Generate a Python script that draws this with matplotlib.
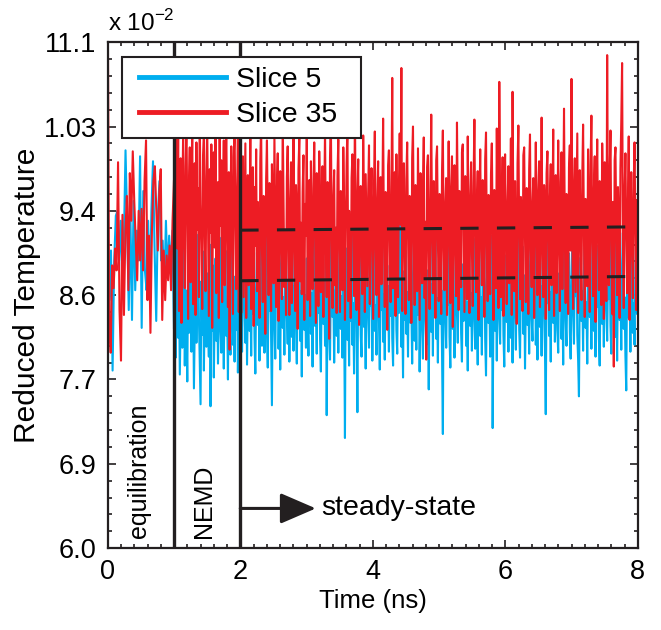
import numpy as np
import matplotlib
matplotlib.use("Agg")
from matplotlib import pyplot as plt
from matplotlib.patches import Rectangle
from matplotlib.ticker import AutoMinorLocator

plt.rcParams['font.family'] = ['Liberation Sans', 'DejaVu Sans']
plt.rcParams['mathtext.fontset'] = 'custom'
plt.rcParams['mathtext.rm'] = 'Liberation Sans'

# reduced temperature (x 10^-2), equilibration part 0-1 ns
red_eq = [11.5, 8.3, 7.97, 8.85, 8.62, 9.02, 8.8, 9.89, 8.4, 7.89, 9.36, 8.35, 9.2, 9.55, 8.6,
          9.78, 9.3, 10.0, 9.5, 9.1, 8.7, 9.4, 8.9, 9.42, 8.8, 9.7, 10.11, 8.5, 9.15, 8.17,
          9.2, 9.7, 9.85, 9.4, 9.0, 9.6, 9.82, 8.3, 9.0, 8.5, 8.95, 8.7, 9.05, 8.6, 9.3]
blue_eq = [8.7, 8.5, 9.0, 7.79, 8.9, 9.35, 9.4, 8.9, 9.3, 8.7, 9.1, 10.01, 9.3, 8.4, 9.4,
           8.3, 9.5, 8.6, 9.2, 8.9, 9.95, 8.22, 9.6, 8.8, 8.6, 9.3, 8.5, 9.4, 9.9, 9.0,
           8.29, 9.35, 9.7, 8.9, 9.1, 8.6, 9.3, 8.75, 9.15, 8.8, 9.2]

# 1-8 ns (NEMD + steady state), 80 samples per ns
red_ss = [
    9.71, 8.54, 10.12, 9.35, 9.02, 10.26, 8.39, 9.58, 9.93, 8.27, 9.44, 10.18, 9.11, 8.62, 9.85, 10.31, 9.27, 8.31, 9.67, 10.04,
    8.68, 9.52, 10.22, 8.46, 9.39, 9.88, 8.35, 10.09, 9.21, 9.63, 8.53, 10.35, 9.47, 9.06, 8.41, 9.96, 10.15, 9.14, 8.59, 9.74,
    10.28, 9.31, 8.34, 9.82, 9.18, 10.07, 8.22, 9.55, 9.99, 9.03, 10.24, 8.57, 9.36, 9.69, 8.32, 10.19, 9.25, 9.91, 8.48, 9.48,
    10.11, 8.65, 9.61, 10.30, 9.08, 8.43, 9.79, 8.00, 9.42, 10.05, 9.17, 8.36, 9.94, 10.21, 9.29, 8.61, 9.57, 10.14, 8.38, 9.34,
    9.12, 8.37, 9.58, 9.95, 8.53, 9.31, 10.08, 8.32, 9.43, 9.76, 8.65, 9.21, 10.19, 8.41, 9.37, 9.84, 8.24, 9.64, 9.05, 10.02,
    8.59, 9.49, 9.17, 8.32, 9.91, 10.28, 9.02, 8.48, 9.55, 9.33, 8.16, 9.72, 10.11, 9.26, 8.55, 9.68, 9.10, 8.39, 9.87, 9.40,
    8.67, 10.16, 9.29, 8.43, 9.61, 9.98, 8.29, 9.35, 9.80, 9.07, 8.51, 10.35, 9.45, 8.63, 9.19, 8.35, 9.74, 10.05, 9.00, 8.35,
    9.52, 9.89, 8.47, 9.24, 10.47, 9.13, 8.39, 9.66, 9.39, 8.21, 9.82, 10.13, 8.69, 9.28, 8.56, 9.59, 9.96, 8.30, 9.47, 9.15,
    10.24, 8.50, 9.36, 9.71, 8.34, 9.90, 9.03, 8.61, 9.63, 10.09, 9.20, 8.27, 9.78, 9.32, 8.44, 10.00, 9.56, 8.58, 9.11, 9.85,
    8.33, 9.42, 10.22, 9.06, 8.53, 9.69, 9.27, 8.11, 9.94, 10.38, 9.16, 8.42, 9.50, 9.81, 8.65, 9.23, 8.37, 9.75, 10.12, 9.01,
    8.38, 9.60, 9.34, 8.60, 10.04, 9.46, 8.30, 9.18, 9.87, 10.27, 8.49, 9.40, 9.08, 8.32, 9.73, 9.97, 9.25, 8.54, 10.51, 9.14,
    8.40, 9.53, 9.92, 8.25, 9.30, 9.65, 9.02, 8.56, 10.16, 9.38, 8.38, 9.77, 9.19, 8.64, 9.58, 10.06, 8.46, 9.44, 9.83, 9.10,
    8.31, 9.67, 10.20, 9.04, 8.55, 9.49, 9.90, 8.33, 9.28, 9.74, 8.66, 9.41, 10.33, 9.12, 8.43, 9.59, 9.22, 8.20, 9.86, 10.01,
    9.15, 8.48, 9.52, 10.74, 8.62, 9.35, 9.79, 8.34, 9.97, 9.07, 8.53, 9.63, 10.18, 9.26, 10.84, 8.39, 9.44, 9.88, 9.01, 8.36,
    9.72, 10.09, 9.18, 8.50, 9.55, 9.31, 8.27, 9.93, 10.25, 9.09, 8.45, 9.66, 9.40, 8.59, 10.03, 9.21, 8.30, 9.78, 9.47, 8.67,
    9.62, 10.14, 8.52, 9.29, 7.90, 9.84, 9.96, 9.05, 8.41, 9.50, 10.37, 9.17, 8.57, 9.70, 9.33, 8.32, 9.91, 10.05, 9.13, 8.49,
    9.57, 9.24, 8.36, 9.81, 10.21, 9.00, 8.60, 9.46, 9.73, 8.35, 9.37, 10.10, 9.19, 8.47, 9.64, 9.95, 8.23, 9.30, 9.86, 9.06,
    8.54, 10.29, 9.42, 8.40, 9.60, 9.15, 8.63, 9.99, 10.07, 9.27, 8.38, 9.75, 9.39, 8.51, 10.15, 9.10, 8.37, 9.53, 9.89, 9.02,
    8.44, 9.68, 10.32, 9.20, 8.58, 9.45, 9.80, 8.30, 9.34, 10.02, 9.11, 8.65, 9.71, 9.26, 8.33, 9.92, 10.19, 9.04, 8.49, 9.56,
    9.36, 8.56, 9.77, 10.08, 9.13, 8.30, 9.61, 9.43, 8.62, 10.23, 9.07, 8.42, 10.70, 9.51, 8.53, 9.29, 9.94, 8.34, 9.65, 9.97,
    9.09, 8.46, 9.48, 9.85, 8.67, 9.32, 10.13, 8.35, 10.60, 9.22, 8.59, 9.70, 9.03, 8.26, 9.88, 10.26, 9.17, 8.51, 9.54, 9.38,
    8.39, 9.96, 10.04, 9.12, 8.48, 9.63, 9.28, 8.36, 9.82, 10.17, 9.01, 8.63, 9.47, 9.73, 8.32, 9.35, 10.09, 9.19, 8.55, 9.59,
    9.90, 8.43, 9.24, 10.34, 9.06, 8.53, 9.66, 9.44, 8.31, 9.78, 10.00, 9.14, 8.40, 9.53, 9.87, 8.65, 9.31, 10.22, 8.34, 9.41,
    9.76, 8.57, 9.20, 10.11, 9.05, 8.39, 9.69, 9.99, 8.61, 9.37, 10.43, 9.16, 8.47, 9.57, 9.25, 8.36, 9.84, 10.06, 9.00, 10.73,
    9.11, 8.41, 9.62, 9.93, 8.58, 9.33, 10.18, 8.37, 9.46, 9.81, 9.04, 8.50, 9.74, 10.27, 9.18, 8.33, 9.52, 9.39, 8.64, 10.02,
    9.27, 8.38, 9.86, 10.36, 9.08, 8.54, 9.60, 9.95, 8.28, 9.42, 10.12, 9.21, 8.60, 9.70, 9.30, 8.45, 10.08, 9.55, 8.31, 9.89,
    9.13, 8.49, 10.97, 9.36, 8.65, 9.77, 10.21, 9.02, 8.36, 9.49, 7.83, 9.91, 10.04, 9.17, 8.55, 9.64, 9.25, 8.32, 9.83, 10.30,
    10.89, 9.07, 8.42, 9.58, 9.98, 9.19, 8.57, 9.45, 10.15, 8.30, 9.34, 9.79, 9.03, 8.52, 9.67, 10.09, 9.23, 8.40, 9.51, 9.20,
]
blue_ss = [
    8.21, 8.79, 7.92, 8.55, 9.03, 8.12, 8.66, 7.75, 8.38, 8.94, 8.02, 8.47, 9.11, 7.84, 8.60, 8.29, 7.68, 8.83, 8.17, 8.52,
    8.97, 7.98, 8.41, 8.72, 7.61, 8.25, 8.88, 8.07, 8.59, 9.16, 8.33, 7.89, 7.45, 8.69, 8.15, 8.99, 7.79, 8.44, 8.62, 8.03,
    8.77, 8.28, 7.93, 9.06, 7.43, 8.53, 8.19, 8.85, 7.72, 8.40, 8.92, 8.09, 8.64, 7.86, 8.36, 9.13, 8.23, 7.97, 8.70, 8.47,
    7.81, 8.58, 9.00, 8.14, 8.42, 7.70, 8.81, 8.31, 7.95, 8.67, 9.08, 8.05, 8.50, 7.88, 8.74, 8.20, 8.96, 7.77, 8.35, 8.63,
    8.86, 8.31, 7.98, 8.72, 9.14, 8.45, 8.07, 8.93, 7.85, 8.58, 9.26, 8.19, 8.67, 7.94, 8.80, 8.36, 9.05, 8.12, 7.76, 8.62,
    8.98, 8.25, 8.51, 7.89, 8.77, 9.19, 8.04, 8.42, 8.90, 7.97, 8.65, 9.31, 8.17, 7.82, 8.70, 8.39, 8.83, 8.10, 7.44, 8.56,
    9.08, 8.28, 7.91, 8.75, 8.49, 9.22, 8.01, 8.61, 7.80, 8.87, 9.00, 8.22, 8.53, 7.95, 8.78, 9.12, 8.34, 8.06, 8.69, 7.88,
    8.46, 9.17, 8.13, 8.64, 7.99, 8.85, 9.36, 8.27, 7.86, 8.73, 8.41, 9.04, 8.09, 8.59, 7.73, 8.81, 9.24, 8.20, 8.55, 8.02,
    8.92, 8.30, 7.94, 8.68, 9.10, 8.16, 8.57, 7.83, 8.79, 9.28, 8.24, 8.48, 7.96, 8.86, 8.37, 9.01, 8.11, 7.78, 8.63, 8.95,
    8.26, 8.71, 8.04, 9.15, 7.34, 8.52, 8.89, 8.18, 7.90, 8.76, 9.21, 8.33, 8.60, 7.87, 8.43, 9.07, 8.14, 8.66, 7.97, 8.82,
    9.30, 8.21, 8.54, 7.92, 8.74, 8.38, 7.11, 8.83, 9.02, 8.10, 8.61, 7.84, 8.90, 8.29, 9.18, 8.05, 8.47, 7.76, 8.70, 9.09,
    8.35, 7.37, 8.80, 8.58, 9.25, 8.15, 7.93, 8.67, 8.99, 8.23, 8.50, 7.81, 8.87, 9.13, 8.32, 8.02, 8.73, 8.44, 9.04, 7.89,
    8.62, 9.20, 8.19, 8.45, 7.95, 8.84, 9.11, 8.28, 7.80, 8.69, 8.40, 9.33, 8.08, 8.56, 7.90, 8.77, 9.02, 8.25, 8.64, 7.98,
    8.85, 8.34, 9.16, 8.12, 7.84, 8.71, 8.53, 9.07, 8.20, 7.96, 8.90, 8.37, 8.63, 9.28, 8.03, 8.49, 7.72, 8.79, 8.30, 9.00,
    8.16, 8.58, 7.93, 8.82, 9.23, 8.27, 8.47, 7.86, 8.73, 9.12, 8.09, 8.61, 8.00, 8.88, 8.35, 9.05, 7.78, 8.54, 8.95, 8.22,
    7.91, 8.68, 9.19, 8.31, 8.05, 8.80, 8.42, 7.60, 8.59, 9.10, 8.18, 8.66, 7.94, 8.92, 8.39, 9.27, 8.11, 8.52, 7.87, 8.75,
    9.03, 8.26, 8.60, 7.97, 7.15, 8.83, 9.14, 8.33, 8.02, 8.70, 8.45, 9.22, 8.13, 7.82, 8.64, 8.91, 8.21, 8.55, 7.92, 8.78,
    9.17, 8.36, 8.07, 8.72, 8.50, 9.08, 8.17, 7.88, 8.86, 8.29, 8.62, 9.30, 8.04, 8.48, 7.79, 8.80, 9.00, 8.24, 8.57, 7.99,
    8.69, 9.12, 8.30, 8.01, 8.89, 8.43, 7.85, 8.76, 9.20, 8.14, 8.53, 7.95, 8.84, 8.38, 9.06, 8.10, 7.74, 8.65, 8.97, 8.27,
    8.58, 7.93, 8.81, 9.15, 7.21, 8.46, 8.92, 8.19, 8.67, 7.89, 8.74, 9.25, 8.32, 8.06, 8.85, 8.40, 9.01, 8.15, 7.83, 8.60,
    8.95, 8.28, 8.52, 7.98, 8.79, 9.18, 8.12, 8.63, 7.87, 8.71, 9.09, 8.35, 8.00, 8.88, 8.44, 9.24, 8.20, 7.92, 8.68, 8.57,
    9.04, 8.16, 8.75, 7.81, 8.49, 8.93, 8.25, 8.61, 7.96, 8.83, 9.14, 8.31, 8.09, 8.70, 8.41, 9.21, 8.05, 8.55, 7.90, 8.78,
    8.99, 8.23, 8.64, 7.94, 8.86, 9.10, 8.34, 8.02, 7.35, 8.72, 8.47, 9.19, 8.14, 8.58, 7.88, 8.81, 9.03, 8.27, 8.66, 8.08,
    8.51, 9.16, 8.20, 7.97, 8.77, 8.39, 9.07, 8.11, 8.60, 7.85, 8.90, 9.26, 8.30, 8.04, 8.73, 8.45, 8.97, 8.18, 7.91, 8.69,
    9.12, 8.37, 8.06, 8.84, 8.54, 9.20, 8.15, 7.90, 7.53, 8.67, 8.93, 8.29, 8.59, 7.99, 8.80, 9.08, 8.22, 8.48, 7.86, 8.74,
    9.15, 8.33, 8.62, 8.01, 8.89, 9.29, 8.19, 8.56, 7.93, 8.76, 8.43, 9.05, 8.12, 7.84, 8.70, 8.98, 8.26, 8.64, 8.03, 8.85,
    9.22, 8.40, 8.09, 8.78, 8.51, 9.11, 8.24, 7.96, 8.82, 8.35, 8.68, 9.33, 8.13, 8.58, 7.89, 8.75, 9.02, 8.30, 8.60, 8.00,
    8.87, 9.18, 8.21, 8.53, 7.94, 7.59, 8.79, 9.06, 8.32, 8.63, 7.98, 8.90, 9.24, 8.17, 8.47, 8.05, 8.83, 9.13, 8.36, 8.71,
]

# linear fits over the steady-state window
fit_t = [2.0, 7.9]
fit_red = [9.205, 9.238]
fit_blue = [8.695, 8.738]

yticks_lab = ["6.0", "6.9", "7.7", "8.6", "9.4", "1.03", "11.1"]

t_red = np.concatenate([np.linspace(0, 1, len(red_eq), endpoint=False), np.linspace(1, 8, len(red_ss))])
t_blue = np.concatenate([np.linspace(0, 1, len(blue_eq), endpoint=False), np.linspace(1, 8, len(blue_ss))])

fig = plt.figure(figsize=(6.61, 6.30), dpi=100)
ax = fig.add_axes([0.163, 0.130, 0.802, 0.803])

ax.plot(t_blue, blue_eq + blue_ss, color="#00AEEF", lw=1.5, label="Slice 5")
ax.plot(t_red, red_eq + red_ss, color="#ED1C24", lw=1.5, label="Slice 35")
ax.plot(fit_t, fit_red, color="#231F20", lw=2.2, dashes=(6, 6))
ax.plot(fit_t, fit_blue, color="#231F20", lw=2.2, dashes=(6, 6))
ax.axvline(1, color="#231F20", lw=2.4)
ax.axvline(2, color="#231F20", lw=2.4)

ax.set_xlim(0, 8)
ax.set_ylim(6.0, 11.1)
ax.set_xticks([0, 2, 4, 6, 8])
ax.set_yticks(np.linspace(6.0, 11.1, 7))
ax.set_yticklabels(yticks_lab)
ax.xaxis.set_minor_locator(AutoMinorLocator(10))
ax.yaxis.set_minor_locator(AutoMinorLocator(5))
ax.tick_params(which="both", direction="in", top=True, right=True, width=1.2, color="#231F20")
ax.tick_params(which="major", length=6, labelsize=19.5, pad=8)
ax.tick_params(which="minor", length=3)
for s in ax.spines.values():
    s.set_linewidth(1.6)
    s.set_color("#231F20")
    s.set_zorder(6)

ax.set_xlabel("Time (ns)", fontsize=18.5, labelpad=3)
ax.set_ylabel("Reduced Temperature", fontsize=21.5, labelpad=2)
ax.text(0, 1.012, r"x 10$^{-2}$", transform=ax.transAxes, fontsize=17.5, ha="left", va="bottom")

ax.text(0.47, 6.1, "equilibration", rotation=90, ha="center", va="bottom", fontsize=18)
ax.text(1.45, 6.1, "NEMD", rotation=90, ha="center", va="bottom", fontsize=18)
ax.annotate("", xy=(3.14, 6.40), xytext=(2.0, 6.40),
            arrowprops=dict(arrowstyle="-|>,head_length=2.2,head_width=0.95", color="#231F20",
                            lw=2.2, shrinkA=0, shrinkB=0))
ax.text(3.22, 6.40, "steady-state", ha="left", va="center", fontsize=20.5)

# legend box (white, black edge) with the entries drawn over it
ax.add_patch(Rectangle((0.027, 0.8097), 0.4498, 0.1613, transform=ax.transAxes,
                       facecolor="white", edgecolor="#231F20", lw=1.5, zorder=4))
leg = ax.legend(loc="center left", bbox_to_anchor=(0.0585, 0.8903), borderaxespad=0, borderpad=0,
                fontsize=20.5, handlelength=3.05, handletextpad=0.35, labelspacing=0.3, frameon=False)
leg.set_zorder(5)
for line in leg.get_lines():
    line.set_linewidth(3.5)

fig.savefig("out.png", dpi=100)
